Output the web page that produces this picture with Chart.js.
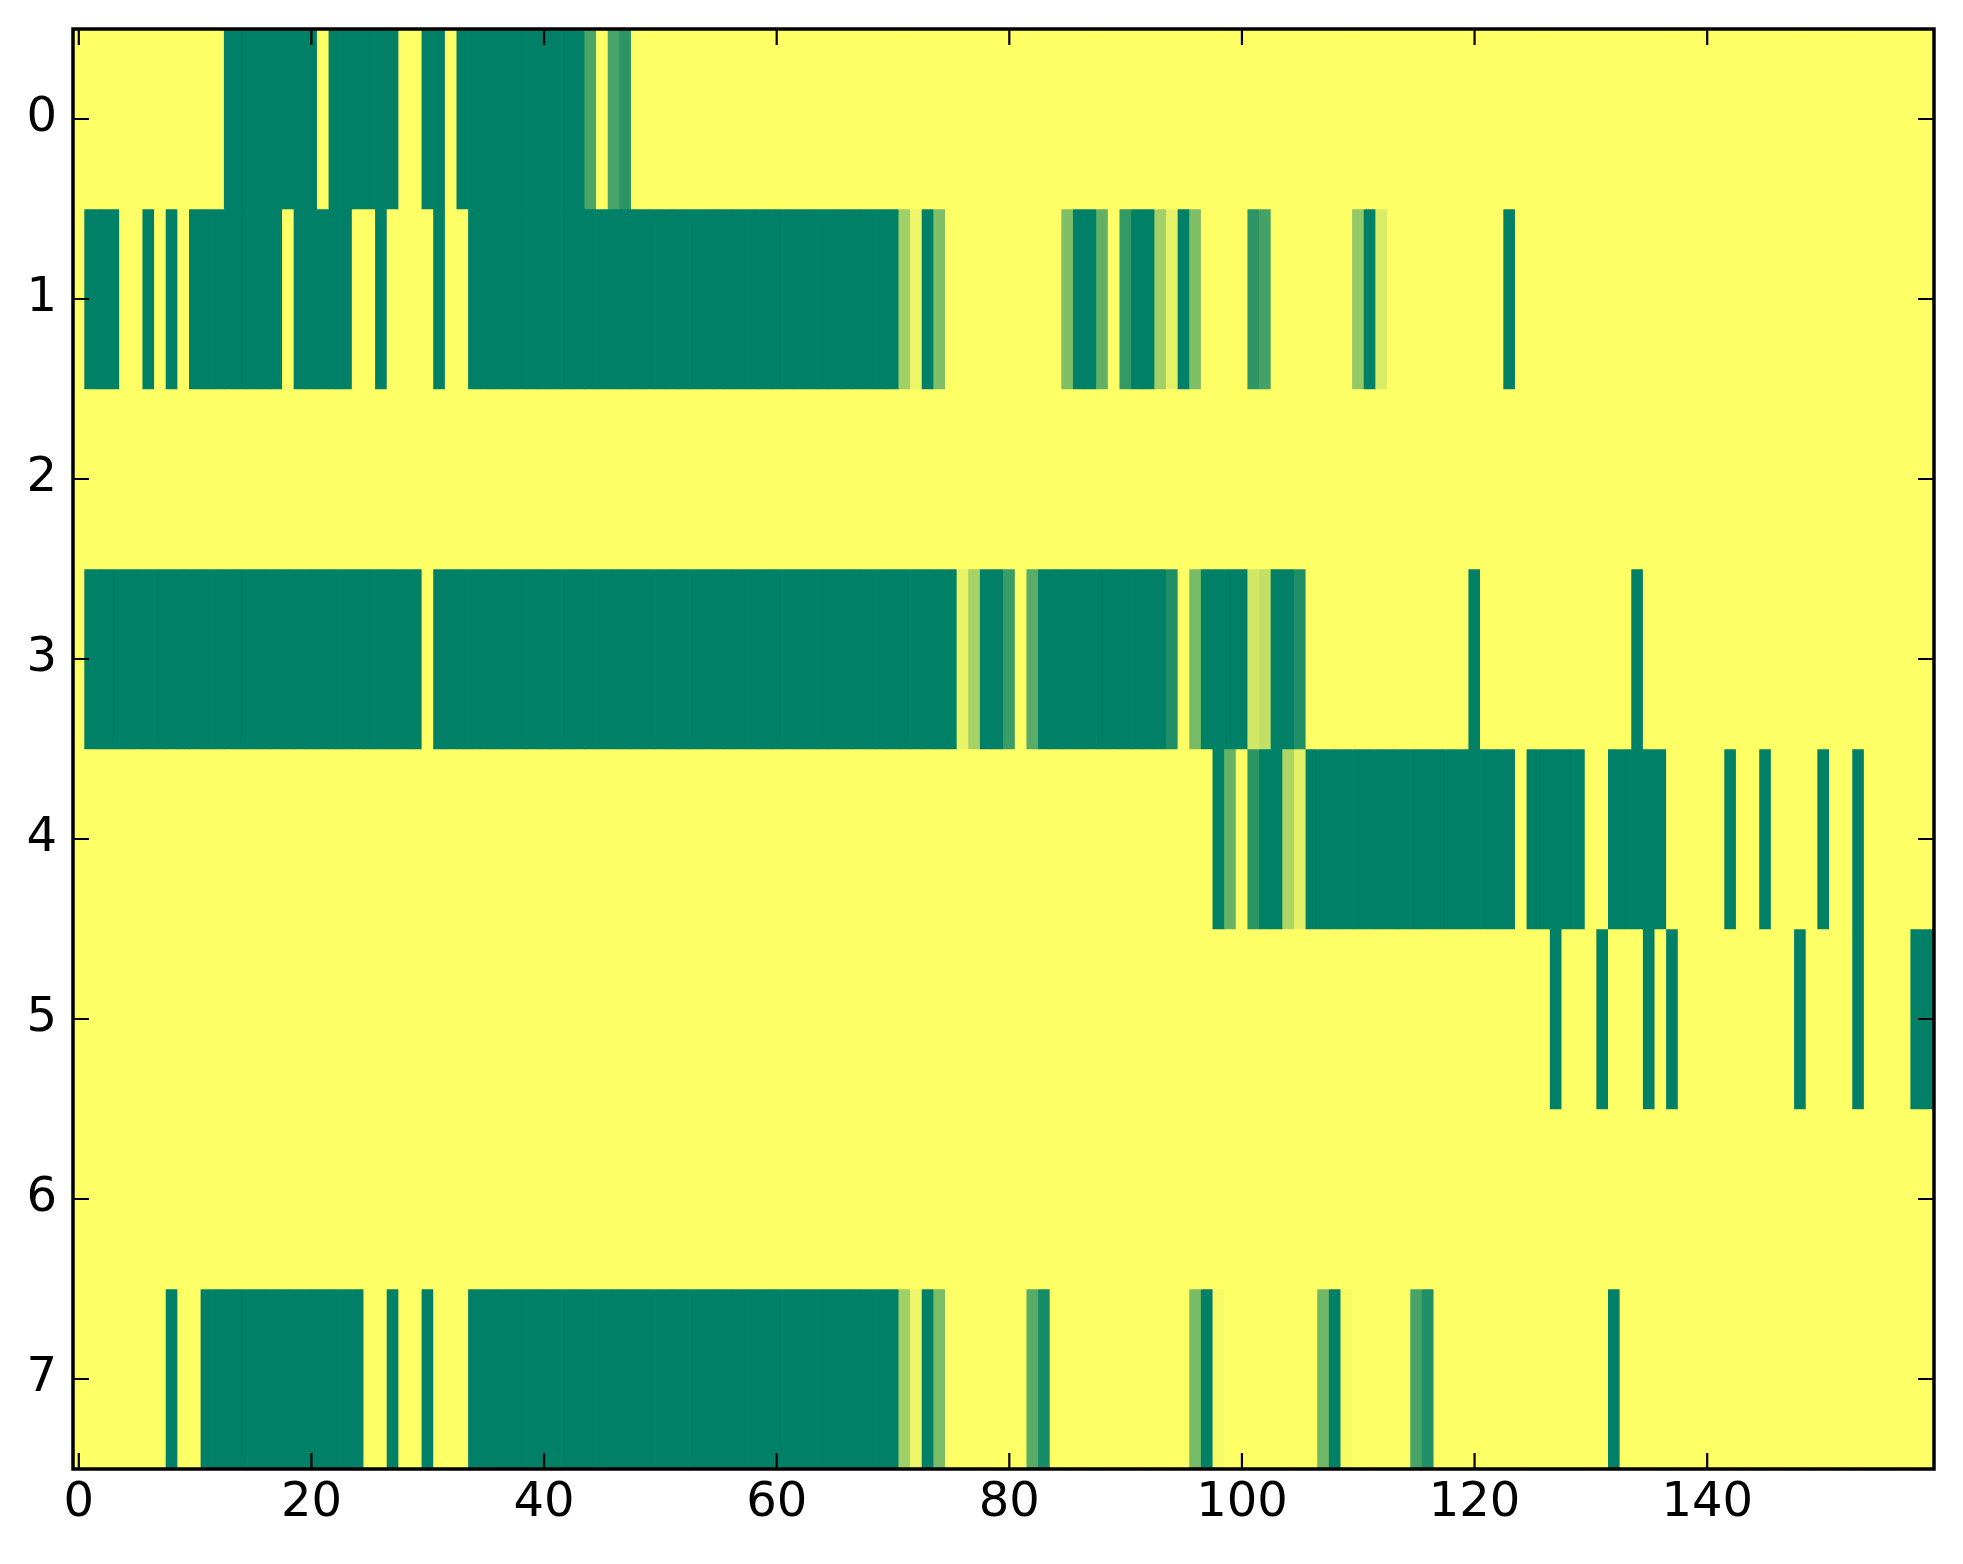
<!DOCTYPE html>
<html>
<head>
<meta charset="utf-8">
<script src="https://cdn.jsdelivr.net/npm/chart.js@4/dist/chart.umd.min.js"></script>
<style>
  html, body { margin: 0; padding: 0; background: #ffffff; }
  #wrap { width: 1963px; height: 1564px; }
</style>
</head>
<body>
<div id="wrap"><canvas id="chart" width="1963" height="1564"></canvas></div>
<script>
// row labels (y axis) and x ticks
const rowLabels = ['0', '1', '2', '3', '4', '5', '6', '7'];
const xTickValues = [0, 20, 40, 60, 80, 100, 120, 140];

// cell values per row, 160 columns each (0 = green, 1 = yellow)
const row0 = [
  1,1,1,1,1,1,1,1,1,1,1,1,1,0,0,0,0,0,0,0,
  0,1,0,0,0,0,0,0,1,1,0,0,1,0,0,0,0,0,0,0,
  0,0,0,0,0.29,1,0.28,0.17,1,1,1,1,1,1,1,1,1,1,1,1,
  1,1,1,1,1,1,1,1,1,1,1,1,1,1,1,1,1,1,1,1,
  1,1,1,1,1,1,1,1,1,1,1,1,1,1,1,1,1,1,1,1,
  1,1,1,1,1,1,1,1,1,1,1,1,1,1,1,1,1,1,1,1,
  1,1,1,1,1,1,1,1,1,1,1,1,1,1,1,1,1,1,1,1,
  1,1,1,1,1,1,1,1,1,1,1,1,1,1,1,1,1,1,1,1
];
const row1 = [
  1,0,0,0,1,1,0,1,0,1,0,0,0,0,0,0,0,0,1,0,
  0,0,0,0,1,1,0,1,1,1,1,0,1,1,0,0,0,0,0,0,
  0,0,0,0,0,0,0,0,0,0,0,0,0,0,0,0,0,0,0,0,
  0,0,0,0,0,0,0,0,0,0,0,0.63,0.93,0,0.5,1,1,1,1,1,
  1,1,1,1,1,0.5,0,0,0.38,1,0.2,0,0,0.63,0.9,0,0.5,1,1,1,
  1,0.18,0.27,1,1,1,1,1,1,1,0.58,0,0.85,1,1,1,1,1,1,1,
  1,1,1,0,1,1,1,1,1,1,1,1,1,1,1,1,1,1,1,1,
  1,1,1,1,1,1,1,1,1,1,1,1,1,1,1,1,1,1,1,1
];
const row2 = [
  1,1,1,1,1,1,1,1,1,1,1,1,1,1,1,1,1,1,1,1,
  1,1,1,1,1,1,1,1,1,1,1,1,1,1,1,1,1,1,1,1,
  1,1,1,1,1,1,1,1,1,1,1,1,1,1,1,1,1,1,1,1,
  1,1,1,1,1,1,1,1,1,1,1,1,1,1,1,1,1,1,1,1,
  1,1,1,1,1,1,1,1,1,1,1,1,1,1,1,1,1,1,1,1,
  1,1,1,1,1,1,1,1,1,1,1,1,1,1,1,1,1,1,1,1,
  1,1,1,1,1,1,1,1,1,1,1,1,1,1,1,1,1,1,1,1,
  1,1,1,1,1,1,1,1,1,1,1,1,1,1,1,1,1,1,1,1
];
const row3 = [
  1,0,0,0,0,0,0,0,0,0,0,0,0,0,0,0,0,0,0,0,
  0,0,0,0,0,0,0,0,0,0,1,0,0,0,0,0,0,0,0,0,
  0,0,0,0,0,0,0,0,0,0,0,0,0,0,0,0,0,0,0,0,
  0,0,0,0,0,0,0,0,0,0,0,0,0,0,0,0,0.91,0.65,0,0,
  0.23,1,0.35,0,0,0,0,0,0,0,0,0,0,0,0.12,1,0.47,0,0,0,
  0,0.82,0.76,0,0,0.12,1,1,1,1,1,1,1,1,1,1,1,1,1,1,
  0,1,1,1,1,1,1,1,1,1,1,1,1,1,0,1,1,1,1,1,
  1,1,1,1,1,1,1,1,1,1,1,1,1,1,1,1,1,1,1,1
];
const row4 = [
  1,1,1,1,1,1,1,1,1,1,1,1,1,1,1,1,1,1,1,1,
  1,1,1,1,1,1,1,1,1,1,1,1,1,1,1,1,1,1,1,1,
  1,1,1,1,1,1,1,1,1,1,1,1,1,1,1,1,1,1,1,1,
  1,1,1,1,1,1,1,1,1,1,1,1,1,1,1,1,1,1,1,1,
  1,1,1,1,1,1,1,1,1,1,1,1,1,1,1,1,1,1,0,0.4,
  1,0.17,0,0,0.68,0.89,0,0,0,0,0,0,0,0,0,0,0,0,0,0,
  0,0,0,0,1,0,0,0,0,0,1,1,0,0,0,0,0,1,1,1,
  1,1,0,1,1,0,1,1,1,1,0,1,1,0,1,1,1,1,1,1
];
const row5 = [
  1,1,1,1,1,1,1,1,1,1,1,1,1,1,1,1,1,1,1,1,
  1,1,1,1,1,1,1,1,1,1,1,1,1,1,1,1,1,1,1,1,
  1,1,1,1,1,1,1,1,1,1,1,1,1,1,1,1,1,1,1,1,
  1,1,1,1,1,1,1,1,1,1,1,1,1,1,1,1,1,1,1,1,
  1,1,1,1,1,1,1,1,1,1,1,1,1,1,1,1,1,1,1,1,
  1,1,1,1,1,1,1,1,1,1,1,1,1,1,1,1,1,1,1,1,
  1,1,1,1,1,1,1,0,1,1,1,0,1,1,1,0,1,0,1,1,
  1,1,1,1,1,1,1,1,0,1,1,1,1,0,1,1,1,1,0,0
];
const row6 = [
  1,1,1,1,1,1,1,1,1,1,1,1,1,1,1,1,1,1,1,1,
  1,1,1,1,1,1,1,1,1,1,1,1,1,1,1,1,1,1,1,1,
  1,1,1,1,1,1,1,1,1,1,1,1,1,1,1,1,1,1,1,1,
  1,1,1,1,1,1,1,1,1,1,1,1,1,1,1,1,1,1,1,1,
  1,1,1,1,1,1,1,1,1,1,1,1,1,1,1,1,1,1,1,1,
  1,1,1,1,1,1,1,1,1,1,1,1,1,1,1,1,1,1,1,1,
  1,1,1,1,1,1,1,1,1,1,1,1,1,1,1,1,1,1,1,1,
  1,1,1,1,1,1,1,1,1,1,1,1,1,1,1,1,1,1,1,1
];
const row7 = [
  1,1,1,1,1,1,1,1,0,1,1,0,0,0,0,0,0,0,0,0,
  0,0,0,0,0,1,1,0,1,1,0,1,1,1,0,0,0,0,0,0,
  0,0,0,0,0,0,0,0,0,0,0,0,0,0,0,0,0,0,0,0,
  0,0,0,0,0,0,0,0,0,0,0,0.63,0.93,0,0.48,1,1,1,1,1,
  1,1,0.35,0.09,1,1,1,1,1,1,1,1,1,1,1,1,0.47,0,0.96,1,
  1,1,1,1,1,1,1,0.44,0,0.97,1,1,1,1,1,0.28,0.13,1,1,1,
  1,1,1,1,1,1,1,1,1,1,1,1,0,1,1,1,1,1,1,1,
  1,1,1,1,1,1,1,1,1,1,1,1,1,1,1,1,1,1,1,1
];
const rows = [row0, row1, row2, row3, row4, row5, row6, row7];

// matplotlib "summer" colormap
function summer(v) {
    const r = Math.round(255 * v);
    const g = Math.round(255 * (0.5 + 0.5 * v));
    return 'rgb(' + r + ',' + g + ',102)';
}

const datasets = rows.map((vals, r) => ({
    label: rowLabels[r],
    data: vals.map((v, c) => ({ x: [c - 0.5, c + 0.5], y: rowLabels[r] })),
    backgroundColor: vals.map(v => summer(v)),
    borderWidth: 0,
    barPercentage: 1,
    categoryPercentage: 1,
    grouped: false
}));

// inward ticks on all four sides + black frame
const frameTicks = {
    id: 'frameTicks',
    afterDatasetsDraw(chart) {
        const { ctx, chartArea: a, scales: { x, y } } = chart;
        ctx.save();
        ctx.strokeStyle = '#000';
        ctx.lineWidth = 2.2;
        ctx.beginPath();
        x.ticks.forEach(t => {
            const px = x.getPixelForValue(t.value);
            ctx.moveTo(px, a.bottom); ctx.lineTo(px, a.bottom - 16);
            ctx.moveTo(px, a.top); ctx.lineTo(px, a.top + 16);
        });
        y.ticks.forEach((t, i) => {
            const py = y.getPixelForTick(i);
            ctx.moveTo(a.left, py); ctx.lineTo(a.left + 16, py);
            ctx.moveTo(a.right, py); ctx.lineTo(a.right - 16, py);
        });
        ctx.stroke();
        ctx.lineWidth = 3.5;
        ctx.strokeRect(a.left, a.top, a.width, a.height);
        ctx.restore();
    }
};

const tickFont = { family: 'DejaVu Sans', size: 48 };

new Chart(document.getElementById('chart').getContext('2d'), {
    type: 'bar',
    data: { labels: rowLabels, datasets: datasets },
    plugins: [frameTicks],
    options: {
        indexAxis: 'y',
        responsive: false,
        animation: false,
        devicePixelRatio: 1,
        layout: { padding: { top: 29, right: 29, left: 0, bottom: 0 } },
        plugins: {
            legend: { display: false },
            tooltip: { enabled: false }
        },
        scales: {
            x: {
                type: 'linear',
                min: -0.5,
                max: 159.5,
                afterBuildTicks: scale => { scale.ticks = xTickValues.map(v => ({ value: v })); },
                afterFit: scale => {
                    scale.height = 95;
                    scale.paddingLeft = 0;
                    scale.paddingRight = 0;
                },
                grid: { display: false, drawTicks: false },
                border: { display: false },
                ticks: { color: '#000', font: tickFont, padding: 6, maxRotation: 0, autoSkip: false }
            },
            y: {
                type: 'category',
                offset: true,
                afterFit: scale => {
                    scale.width = 73;
                    scale.paddingTop = 0;
                    scale.paddingBottom = 0;
                },
                grid: { display: false, drawTicks: false },
                border: { display: false },
                ticks: { color: '#000', font: tickFont, padding: 16 }
            }
        }
    }
});
</script>
</body>
</html>
